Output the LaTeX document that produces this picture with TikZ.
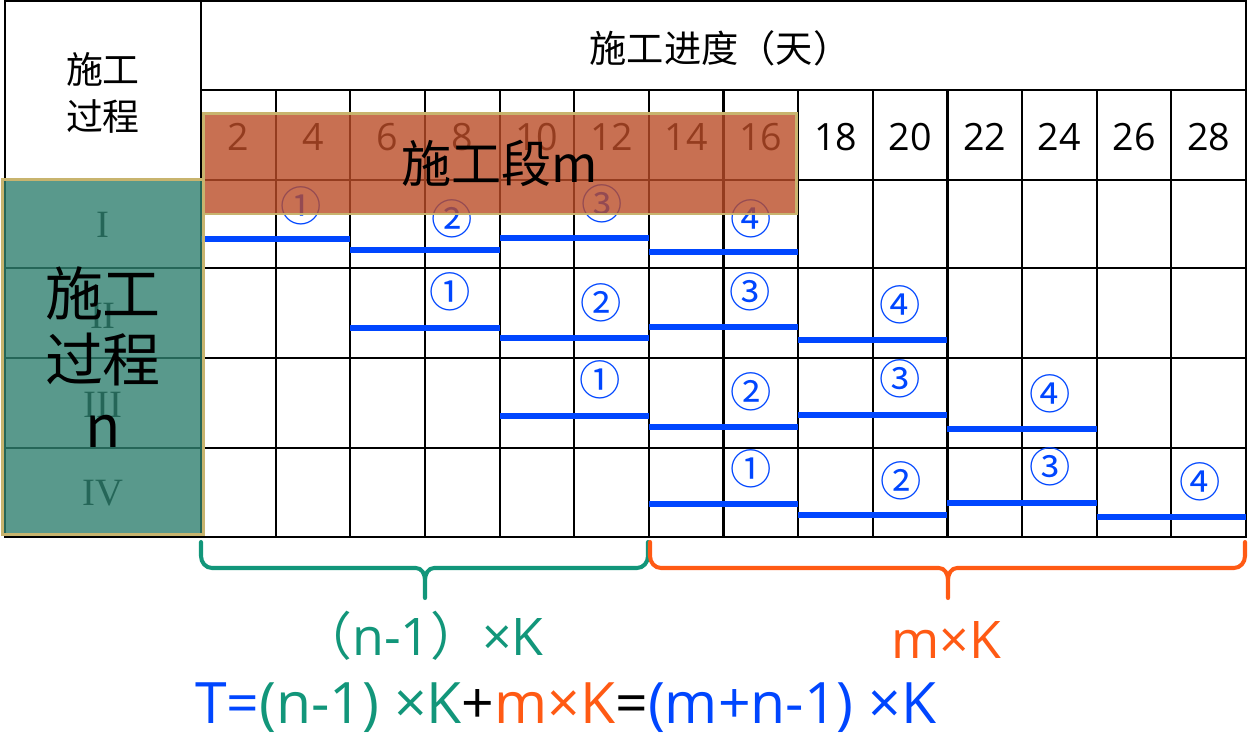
\documentclass[tikz,border=0pt]{standalone}
\usepackage{fontspec}
\setmainfont{Open Sans}
\newfontfamily\cjkfont{Noto Sans CJK SC}
\newfontfamily\numeralfont{Liberation Serif}
\usetikzlibrary{positioning}
\definecolor{planblue}{HTML}{0046FF}
\definecolor{plangreen}{HTML}{12967A}
\definecolor{planorange}{HTML}{FF5A14}
\definecolor{planteal}{RGB}{47,128,111}
\definecolor{planrust}{RGB}{186,76,39}
\definecolor{plantan}{RGB}{200,180,110}

\begin{document}
\begin{tikzpicture}[
  x=0.02cm, y=-0.02cm,
  gridline/.style={draw=black, line width=1.25pt},
  procbar/.style={draw=planblue, line width=3.3pt},
  daynum/.style={font=\fontsize{21.4}{25}\selectfont, inner sep=0pt},
  segnum/.style={font=\cjkfont\fontsize{23.5}{27}\selectfont, text=planblue, inner sep=0pt},
  procnum/.style={font=\numeralfont\fontsize{22}{26}\selectfont, inner sep=0pt},
  maskbox/.style={draw=plantan, line width=1.7pt, fill opacity=0.8,
    text opacity=1, inner sep=0pt, align=center},
  brace/.style={line width=2.3pt, line cap=round, line join=round},
  sumlabel/.style={font=\fontsize{29.5}{34}\selectfont, inner sep=0pt}
]
\useasboundingbox (0,0) rectangle (1249,735);

% table
\draw[gridline] (5,1) rectangle (1246,537);
\draw[gridline] (201,1) -- (201,537);
\draw[gridline] (201,90) -- (1246,90);
\draw[gridline] (5,180) -- (1246,180);
\draw[gridline] (5,268) -- (1246,268);
\draw[gridline] (5,358) -- (1246,358);
\draw[gridline] (5,448) -- (1246,448);
\draw[gridline] (275.6,90) -- (275.6,537);
\draw[gridline] (350.3,90) -- (350.3,537);
\draw[gridline] (424.9,90) -- (424.9,537);
\draw[gridline] (499.6,90) -- (499.6,537);
\draw[gridline] (574.2,90) -- (574.2,537);
\draw[gridline] (648.8,90) -- (648.8,537);
\draw[gridline] (723.5,90) -- (723.5,537);
\draw[gridline] (798.1,90) -- (798.1,537);
\draw[gridline] (872.8,90) -- (872.8,537);
\draw[gridline] (947.4,90) -- (947.4,537);
\draw[gridline] (1022.0,90) -- (1022.0,537);
\draw[gridline] (1096.7,90) -- (1096.7,537);
\draw[gridline] (1171.3,90) -- (1171.3,537);

\node[font=\cjkfont\fontsize{21.2}{25}\selectfont] (progress) at (720,48) {施工进度（天）};
\node[font=\cjkfont\fontsize{21}{26.6}\selectfont, align=center] (prochead) at (103,93) {施工\\过程};

\node[daynum] (d2) at (238.3,137) {2};
\node[daynum] (d4) at (313.0,137) {4};
\node[daynum] (d6) at (387.6,137) {6};
\node[daynum] (d8) at (462.3,137) {8};
\node[daynum] (d10) at (536.9,137) {10};
\node[daynum] (d12) at (611.5,137) {12};
\node[daynum] (d14) at (686.2,137) {14};
\node[daynum] (d16) at (760.8,137) {16};
\node[daynum] (d18) at (835.5,137) {18};
\node[daynum] (d20) at (910.1,137) {20};
\node[daynum] (d22) at (984.7,137) {22};
\node[daynum] (d24) at (1059.4,137) {24};
\node[daynum] (d26) at (1134.0,137) {26};
\node[daynum] (d28) at (1208.7,137) {28};

\node[procnum] (p1) at (103,225) {I};
\node[procnum] (p2) at (103,316) {II};
\node[procnum] (p3) at (103,405) {III};
\node[procnum] (p4) at (103,493) {IV};

% process I
\draw[procbar] (201,239) -- (350.3,239);
\draw[procbar] (350.3,250) -- (499.6,250);
\draw[procbar] (499.6,238) -- (648.8,238);
\draw[procbar] (648.8,252) -- (798.1,252);
\node[segnum] (s11) at (301,206) {①};
\node[segnum] (s12) at (452,219) {②};
\node[segnum] (s13) at (602,204) {③};
\node[segnum] (s14) at (751,219) {④};

% process II
\draw[procbar] (350.3,328) -- (499.6,328);
\draw[procbar] (499.6,338) -- (648.8,338);
\draw[procbar] (648.8,327) -- (798.1,327);
\draw[procbar] (798.1,340) -- (947.4,340);
\node[segnum] (s21) at (450,292) {①};
\node[segnum] (s22) at (601,303) {②};
\node[segnum] (s23) at (750,292) {③};
\node[segnum] (s24) at (900,305) {④};

% process III
\draw[procbar] (499.6,416) -- (648.8,416);
\draw[procbar] (648.8,427) -- (798.1,427);
\draw[procbar] (798.1,415) -- (947.4,415);
\draw[procbar] (947.4,429) -- (1096.7,429);
\node[segnum] (s31) at (600,380) {①};
\node[segnum] (s32) at (751,392) {②};
\node[segnum] (s33) at (900,379) {③};
\node[segnum] (s34) at (1050,394) {④};

% process IV
\draw[procbar] (648.8,504) -- (798.1,504);
\draw[procbar] (798.1,515) -- (947.4,515);
\draw[procbar] (947.4,503) -- (1096.7,503);
\draw[procbar] (1096.7,517) -- (1246,517);
\node[segnum] (s41) at (751,469) {①};
\node[segnum] (s42) at (901,481) {②};
\node[segnum] (s43) at (1050,467) {③};
\node[segnum] (s44) at (1200,482) {④};

% highlight boxes
\node[maskbox, fill=planrust, minimum width=11.88cm, minimum height=2.02cm,
  font=\cjkfont\fontsize{28.5}{32}\selectfont] (segments) at (500,163.5) {施工段m};
\node[maskbox, fill=planteal, minimum width=4.04cm, minimum height=7.1cm,
  font=\cjkfont\fontsize{33}{37.5}\selectfont] (processes) at (103,357) {施工\\过程\\n};

% braces
\draw[brace, draw=plangreen] (201,542) -- (201,556) to[out=-90,in=180] (212,568)
  -- (416,568) to[out=0,in=90] (425,580) -- (425,598) -- (425,580)
  to[out=90,in=180] (434,568) -- (637,568) to[out=0,in=-90] (648,556) -- (648,542);
\draw[brace, draw=planorange] (650,542) -- (650,556) to[out=-90,in=180] (661,568)
  -- (939,568) to[out=0,in=90] (948,580) -- (948,598) -- (948,580)
  to[out=90,in=180] (957,568) -- (1234,568) to[out=0,in=-90] (1245,556) -- (1245,542);

\node[sumlabel, text=plangreen] (waitsum) at (422,636)
  {{\cjkfont （}n-1{\cjkfont ）}×K};
\node[sumlabel, text=planorange] (worksum) at (946,640) {m×K};
\node[sumlabel, font=\fontsize{32.5}{37}\selectfont, anchor=west] (total) at (195,708)
  {\textcolor{planblue}{T=}\textcolor{plangreen}{(n-1) ×K}+\textcolor{planorange}{m×K}=\textcolor{planblue}{(m+n-1) ×K}};
\end{tikzpicture}
\end{document}
